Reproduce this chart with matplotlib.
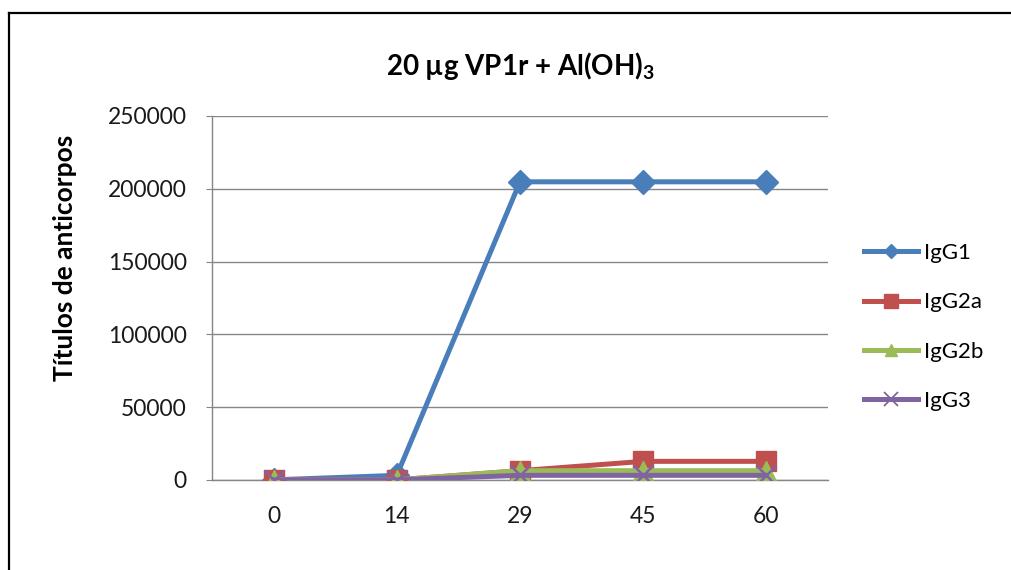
import matplotlib
matplotlib.use("Agg")
import matplotlib.pyplot as plt
from matplotlib.lines import Line2D

plt.rcParams['font.family'] = ['Lato', 'DejaVu Sans']

# Days after immunisation and antibody titres per IgG subclass
days = ['0', '14', '29', '45', '60']
igg1 = [100, 3200, 204800, 204800, 204800]
igg2a = [100, 100, 6400, 12800, 12800]
igg2b = [100, 100, 6400, 6400, 6400]
igg3 = [100, 100, 3200, 3200, 3200]
series_names = ['IgG1', 'IgG2a', 'IgG2b', 'IgG3']
yticks = [0, 50000, 100000, 150000, 200000, 250000]

colors = ['#4A7EBB', '#C0504D', '#9BBB59', '#8064A2']
markers = ['D', 's', '^', 'x']
msizes = [12, 15, 15, 15]
legend_msizes = [7, 10, 9, 10]

fig = plt.figure(figsize=(10.12, 5.70), dpi=100)
ax = fig.add_axes([212 / 1012, 1 - 480 / 570, 616 / 1012, 364 / 570])

x = list(range(len(days)))
for vals, c, m, ms in zip([igg1, igg2a, igg2b, igg3], colors, markers, msizes):
    if m == 'x':
        ax.plot(x, vals, color=c, lw=3.6, marker=m, ms=ms, mew=1.8,
                mec=c, solid_capstyle='round', zorder=3)
    else:
        ax.plot(x, vals, color=c, lw=3.6, marker=m, ms=ms, mfc=c, mec=c,
                solid_capstyle='round', zorder=3)

ax.set_xlim(-0.5, len(days) - 0.5)
ax.set_ylim(0, 250000)
ax.set_xticks(x)
ax.set_xticklabels(days)
ax.set_yticks(yticks)
ax.set_yticklabels([str(v) for v in yticks])

ax.grid(axis='y', color='#868686', lw=1.0)
ax.set_axisbelow(True)
for side in ['top', 'right']:
    ax.spines[side].set_visible(False)
for side in ['left', 'bottom']:
    ax.spines[side].set_color('#868686')
    ax.spines[side].set_linewidth(1.0)

ax.tick_params(axis='y', length=4, color='#868686', pad=14, labelsize=16.5,
               labelcolor='#1a1a1a')
ax.tick_params(axis='x', length=0, pad=19, labelsize=16.5, labelcolor='#1a1a1a')

fig.text(520 / 1012, 1 - 66 / 570, r'20 µg VP1r + Al(OH)$\mathregular{_3}$',
         ha='center', va='center', fontsize=20, fontweight='bold')
fig.text(65 / 1012, 1 - 258 / 570, 'Títulos de anticorpos', rotation=90,
         ha='center', va='center', fontsize=19, fontweight='bold')

handles = [Line2D([], [], color=c, lw=3.6, marker=m, ms=lms, mfc=c, mec=c,
                  mew=1.3 if m == 'x' else 1.0)
           for c, m, lms in zip(colors, markers, legend_msizes)]
ax.legend(handles, series_names, loc='upper left',
          bbox_to_anchor=(844 / 1012, 1 - 223 / 570),
          bbox_transform=fig.transFigure, frameon=False, fontsize=16,
          handlelength=2.45, handletextpad=0.25, labelspacing=1.32)

# Outer chart frame (top and left edges)
fig.add_artist(Line2D([8.5 / 1012, 8.5 / 1012], [0, 1 - 12.5 / 570],
                      transform=fig.transFigure, color='black', lw=1.6))
fig.add_artist(Line2D([8.5 / 1012, 1], [1 - 12.5 / 570, 1 - 12.5 / 570],
                      transform=fig.transFigure, color='black', lw=1.6))

fig.savefig('out.png', dpi=100)
